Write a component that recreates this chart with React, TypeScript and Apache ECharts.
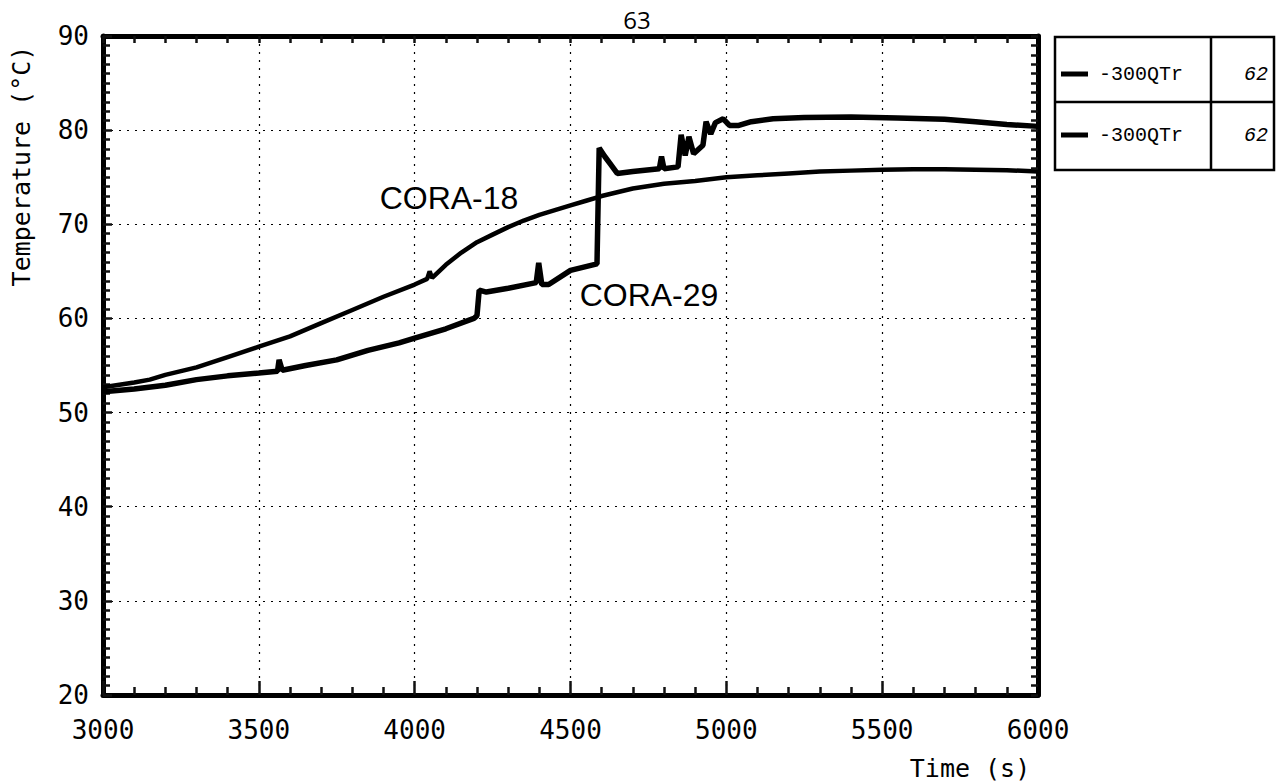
import React, { useEffect, useRef } from "react";
import * as echarts from "echarts";

// CORA-18 (upper curve at start, smooth rise)
const times18 = [3000, 3100, 3150, 3200, 3300, 3400, 3500, 3600, 3700, 3800, 3900, 4000, 4040, 4048, 4056, 4100, 4150, 4200, 4250, 4300, 4350, 4400, 4450, 4500, 4550, 4600, 4700, 4800, 4900, 5000, 5100, 5200, 5300, 5400, 5500, 5600, 5700, 5800, 5900, 6000];
const temps18 = [52.7, 53.2, 53.5, 54.0, 54.8, 55.9, 57.0, 58.1, 59.5, 60.9, 62.3, 63.6, 64.2, 65.0, 64.3, 65.7, 67.0, 68.1, 68.9, 69.7, 70.4, 71.0, 71.5, 72.0, 72.5, 73.0, 73.8, 74.3, 74.6, 75.0, 75.2, 75.4, 75.6, 75.7, 75.8, 75.85, 75.85, 75.8, 75.75, 75.6];

// CORA-29 (lower at start, stepwise jumps)
const times29 = [3000, 3100, 3200, 3300, 3400, 3500, 3560, 3565, 3575, 3650, 3750, 3850, 3950, 4000, 4100, 4190, 4200, 4207, 4230, 4300, 4390, 4398, 4408, 4430, 4500, 4585, 4592, 4610, 4630, 4650, 4700, 4785, 4792, 4800, 4845, 4855, 4868, 4880, 4895, 4925, 4935, 4950, 4965, 4990, 5010, 5040, 5080, 5150, 5250, 5400, 5550, 5700, 5800, 5900, 6000];
const temps29 = [52.2, 52.5, 52.9, 53.5, 53.9, 54.2, 54.4, 55.6, 54.5, 55.0, 55.6, 56.6, 57.4, 57.9, 58.9, 60.0, 60.3, 63.0, 62.8, 63.2, 63.8, 65.9, 63.6, 63.6, 65.1, 65.8, 78.1, 77.2, 76.3, 75.4, 75.6, 75.9, 77.2, 75.9, 76.1, 79.5, 77.3, 79.3, 77.5, 78.4, 80.9, 79.6, 80.8, 81.2, 80.5, 80.5, 80.9, 81.2, 81.35, 81.4, 81.3, 81.15, 80.9, 80.6, 80.4];

const xTicks = { min: 3000, max: 6000, interval: 500 };
const yTicks = { min: 20, max: 90, interval: 10 };

const seriesNames = ["CORA-18", "CORA-29"];
const legendLabels = ["-300QTr", "-300QTr"];
const legendValues = ["62", "62"];
const titleText = "63";
const xName = "Time (s)";
const yName = "Temperature (°C)";

const pairs = (xs: number[], ys: number[]) => xs.map((x, i) => [x, ys[i]]);

const black = "#000";
const tickColor = "#111";
const mono = "DejaVu Sans Mono";
const grid = { left: 103, right: 238, top: 36, bottom: 87 };

const tk = () => ({ color: tickColor, width: 2.5 });
const axLine = () => ({ show: true, onZero: false, lineStyle: { color: black, width: 5 } });
const dotted = () => ({ color: black, type: [2, 6] as any, width: 1.2 });

// Layer 1: bottom/top/left frame with ticks, grid lines, CORA-18
function frameOption() {
  return {
    animation: false,
    grid,
    xAxis: [
      {
        type: "value", min: xTicks.min, max: xTicks.max, interval: xTicks.interval,
        axisLine: axLine(),
        axisTick: { show: true, inside: true, length: 14, lineStyle: tk() },
        minorTick: { show: true, splitNumber: 5, length: 8, lineStyle: tk() },
        axisLabel: { show: false },
        splitLine: { show: true, lineStyle: dotted() },
      },
      {
        type: "value", position: "top", min: xTicks.min, max: xTicks.max, interval: 100,
        axisLine: axLine(),
        axisTick: { show: true, inside: true, length: 7, lineStyle: tk() },
        axisLabel: { show: false },
        splitLine: { show: false },
      },
    ],
    yAxis: [
      {
        type: "value", min: yTicks.min, max: yTicks.max, interval: yTicks.interval,
        axisLine: axLine(),
        axisTick: { show: true, inside: true, length: 9, lineStyle: tk() },
        minorTick: { show: true, splitNumber: 10, length: 7, lineStyle: tk() },
        axisLabel: { show: false },
        splitLine: { show: true, lineStyle: dotted() },
      },
    ],
    series: [
      {
        name: seriesNames[0], type: "line", xAxisIndex: 0, yAxisIndex: 0,
        showSymbol: false, symbol: "none",
        lineStyle: { color: black, width: 4.5 },
        data: pairs(times18, temps18),
      },
    ],
  };
}

// Layer 2: right frame edge with its ticks
function rightOption() {
  return {
    animation: false,
    grid,
    xAxis: { type: "value", min: xTicks.min, max: xTicks.max, show: false },
    yAxis: {
      type: "value", position: "right", min: yTicks.min, max: yTicks.max, interval: yTicks.interval,
      axisLine: axLine(),
      axisTick: { show: true, inside: true, length: 7, lineStyle: tk() },
      minorTick: { show: true, splitNumber: 10, length: 7, lineStyle: tk() },
      axisLabel: { show: false },
      splitLine: { show: false },
    },
    series: [],
  };
}

// Layer 3: tick labels, CORA-29, texts and legend table
function labelOption() {
  return {
    animation: false,
    grid,
    xAxis: {
      type: "value", min: xTicks.min, max: xTicks.max, interval: xTicks.interval,
      axisLine: { show: false }, axisTick: { show: false }, splitLine: { show: false },
      axisLabel: { color: black, fontFamily: mono, fontSize: 26, margin: 22, formatter: (v: number) => String(v) },
    },
    yAxis: {
      type: "value", min: yTicks.min, max: yTicks.max, interval: yTicks.interval,
      axisLine: { show: false }, axisTick: { show: false }, splitLine: { show: false },
      axisLabel: { color: black, fontFamily: mono, fontSize: 26, margin: 14, padding: [10, 0, 0, 0] },
    },
    series: [
      {
        name: seriesNames[1], type: "line",
        showSymbol: false, symbol: "none",
        lineStyle: { color: black, width: 5.5 },
        data: pairs(times29, temps29),
      },
    ],
    graphic: [
      { type: "text", x: 637, y: 19, style: { text: titleText, fill: black, fontSize: 24, fontFamily: "Open Sans", align: "center", verticalAlign: "middle" } },
      { type: "text", x: 21, y: 166, rotation: Math.PI / 2, style: { text: yName, fill: black, fontSize: 25, fontFamily: mono, align: "center", verticalAlign: "middle" } },
      { type: "text", x: 970, y: 768, style: { text: xName, fill: black, fontSize: 25, fontFamily: mono, align: "center", verticalAlign: "middle" } },
      { type: "text", x: 449, y: 198, style: { text: seriesNames[0], fill: black, fontSize: 32, fontFamily: "Liberation Sans", align: "center", verticalAlign: "middle" } },
      { type: "text", x: 649, y: 295, style: { text: seriesNames[1], fill: black, fontSize: 32, fontFamily: "Liberation Sans", align: "center", verticalAlign: "middle" } },
      { type: "rect", shape: { x: 1055, y: 37, width: 219, height: 133 }, style: { fill: "#fff", stroke: black, lineWidth: 2.5 } },
      { type: "line", shape: { x1: 1055, y1: 102, x2: 1274, y2: 102 }, style: { stroke: black, lineWidth: 2.5 } },
      { type: "line", shape: { x1: 1211, y1: 37, x2: 1211, y2: 170 }, style: { stroke: black, lineWidth: 2.5 } },
      ...[74, 135].flatMap((yy, i) => [
        { type: "line", shape: { x1: 1061, y1: yy, x2: 1088, y2: yy }, style: { stroke: black, lineWidth: 5 } },
        { type: "text", x: 1099, y: yy, style: { text: legendLabels[i], fill: black, fontSize: 20, fontFamily: "Liberation Mono", align: "left", verticalAlign: "middle" } },
        { type: "text", x: 1256, y: yy, style: { text: legendValues[i], fill: black, fontSize: 20, fontStyle: "italic", fontFamily: "Liberation Mono", align: "center", verticalAlign: "middle" } },
      ]),
    ],
  };
}

export default function App() {
  const ref1 = useRef<HTMLDivElement>(null);
  const ref2 = useRef<HTMLDivElement>(null);
  const ref3 = useRef<HTMLDivElement>(null);
  useEffect(() => {
    if (!ref1.current || !ref2.current || !ref3.current) return;
    const c1 = echarts.init(ref1.current, null, { renderer: "svg" });
    c1.setOption(frameOption() as any);
    const c2 = echarts.init(ref2.current, null, { renderer: "svg" });
    c2.setOption(rightOption() as any);
    const c3 = echarts.init(ref3.current, null, { renderer: "svg" });
    c3.setOption(labelOption() as any);
    return () => {
      c1.dispose();
      c2.dispose();
      c3.dispose();
    };
  }, []);
  const box: React.CSSProperties = { position: "absolute", left: 0, top: 0, width: 1276, height: 782 };
  return (
    <div style={{ position: "absolute", left: 0, top: 0, width: 1276, height: 782, background: "#fff" }}>
      <div ref={ref1} style={box} />
      <div ref={ref2} style={{ ...box, pointerEvents: "none" }} />
      <div ref={ref3} style={{ ...box, pointerEvents: "none" }} />
    </div>
  );
}
